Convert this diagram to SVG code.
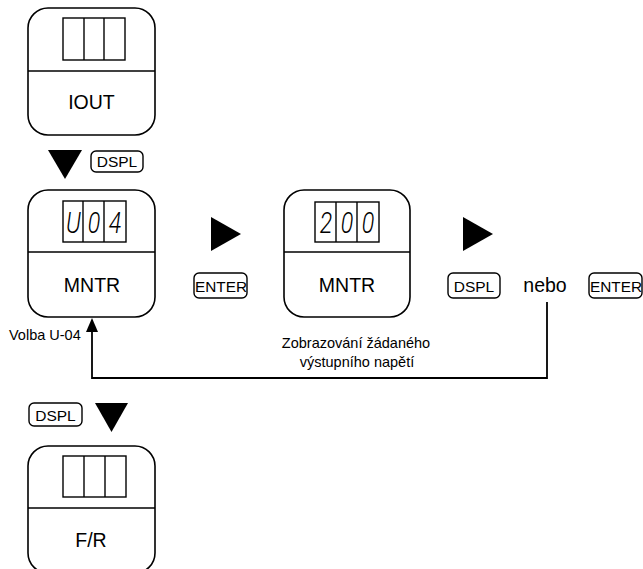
<svg xmlns="http://www.w3.org/2000/svg" width="643" height="569" viewBox="0 0 643 569">
  <defs>
    <style>
      .box { fill: #fff; stroke: #000; stroke-width: 1.6; }
      .line { fill: none; stroke: #000; stroke-width: 1.4; }
      .disp { fill: #fff; stroke: #000; stroke-width: 1.4; }
      .btn { fill: #fff; stroke: #000; stroke-width: 1.4; }
      .lbl { font-family: "Liberation Sans", Arial, sans-serif; font-size: 19.5px; fill: #000; text-anchor: middle; }
      .btxt { font-family: "Liberation Sans", Arial, sans-serif; font-size: 15.5px; fill: #000; }
      .note { font-family: "Liberation Sans", Arial, sans-serif; font-size: 14.5px; fill: #000; }
      .seg { font-family: Roboto, "DejaVu Sans", sans-serif; font-weight: 300; font-style: italic; font-size: 29px; fill: #000; text-anchor: middle; }
      .tri { fill: #000; }
      .conn { fill: none; stroke: #000; stroke-width: 1.8; }
    </style>
  </defs>

  <!-- IOUT node -->
  <g id="node-iout">
    <rect class="box" x="28" y="8" width="127" height="127" rx="20"/>
    <line class="line" x1="28" y1="71" x2="155" y2="71"/>
    <rect class="disp" x="63" y="18" width="62" height="42"/>
    <line class="line" x1="84" y1="18" x2="84" y2="60"/>
    <line class="line" x1="104" y1="18" x2="104" y2="60"/>
    <text class="lbl" x="91.5" y="109">IOUT</text>
  </g>

  <!-- DSPL step down -->
  <g id="step-dspl-1">
    <polygon class="tri" points="48,150 82,150 65,179"/>
    <rect class="btn" x="91" y="151" width="52" height="21" rx="5"/>
    <text class="btxt" x="117" y="167" text-anchor="middle">DSPL</text>
  </g>

  <!-- MNTR node, U-04 -->
  <g id="node-mntr-u04">
    <rect class="box" x="28" y="190" width="127" height="127" rx="20"/>
    <line class="line" x1="28" y1="252" x2="155" y2="252"/>
    <rect class="disp" x="63" y="201" width="63" height="41"/>
    <line class="line" x1="83" y1="201" x2="83" y2="242"/>
    <line class="line" x1="104" y1="201" x2="104" y2="242"/>
    <text class="seg" transform="translate(73.5,233) scale(0.8,1)">U</text>
    <text class="seg" transform="translate(94,233) scale(0.8,1)">0</text>
    <text class="seg" transform="translate(115,233) scale(0.8,1)">4</text>
    <text class="lbl" x="92" y="292">MNTR</text>
  </g>

  <!-- ENTER step right -->
  <g id="step-enter-1">
    <polygon class="tri" points="211,217 241,234 211,251"/>
    <rect class="btn" x="194" y="273" width="53" height="25" rx="5"/>
    <text class="btxt" x="195" y="292" textLength="52" lengthAdjust="spacingAndGlyphs">ENTER</text>
  </g>

  <!-- MNTR node, 200 -->
  <g id="node-mntr-200">
    <rect class="box" x="284" y="190" width="126" height="127" rx="20"/>
    <line class="line" x1="284" y1="252" x2="410" y2="252"/>
    <rect class="disp" x="315" y="202" width="64" height="40"/>
    <line class="line" x1="336" y1="202" x2="336" y2="242"/>
    <line class="line" x1="357" y1="202" x2="357" y2="242"/>
    <text class="seg" transform="translate(326,233) scale(0.8,1)">2</text>
    <text class="seg" transform="translate(347,233) scale(0.8,1)">0</text>
    <text class="seg" transform="translate(368,233) scale(0.8,1)">0</text>
    <text class="lbl" x="347" y="292">MNTR</text>
  </g>

  <!-- DSPL or ENTER step right -->
  <g id="step-dspl-enter">
    <polygon class="tri" points="463,217 493,234 463,251"/>
    <rect class="btn" x="448" y="273" width="52" height="25" rx="5"/>
    <text class="btxt" x="474" y="292" text-anchor="middle">DSPL</text>
    <text class="lbl" x="545" y="292">nebo</text>
    <rect class="btn" x="589" y="273" width="53" height="25" rx="5"/>
    <text class="btxt" x="590" y="292" textLength="52" lengthAdjust="spacingAndGlyphs">ENTER</text>
  </g>

  <!-- Return connector -->
  <g id="connectors">
    <polyline class="conn" points="547,302 547,378 92,378 92,330"/>
    <polygon class="tri" points="92,318 86,332 98,332"/>
  </g>

  <!-- Annotations -->
  <g id="annotations">
    <text class="note" x="9" y="340">Volba U-04</text>
    <text class="note" x="356" y="348" text-anchor="middle">Zobrazování žádaného</text>
    <text class="note" x="357" y="367" text-anchor="middle">výstupního napětí</text>
  </g>

  <!-- DSPL step down -->
  <g id="step-dspl-2">
    <rect class="btn" x="29" y="403" width="53" height="23" rx="5"/>
    <text class="btxt" x="55.5" y="421" text-anchor="middle">DSPL</text>
    <polygon class="tri" points="95,403 128,403 111.5,432"/>
  </g>

  <!-- F/R node -->
  <g id="node-fr">
    <rect class="box" x="28" y="446" width="127" height="127" rx="20"/>
    <line class="line" x1="28" y1="508" x2="155" y2="508"/>
    <rect class="disp" x="63" y="456" width="63" height="41"/>
    <line class="line" x1="84" y1="456" x2="84" y2="497"/>
    <line class="line" x1="105" y1="456" x2="105" y2="497"/>
    <text class="lbl" x="91" y="547">F/R</text>
  </g>
</svg>
